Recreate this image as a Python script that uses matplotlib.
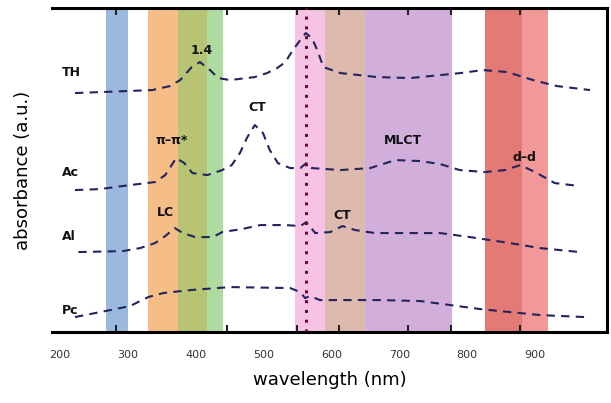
import matplotlib
matplotlib.use("Agg")
import matplotlib.pyplot as plt

# ---- data ----
wl_th = [222, 336, 362, 377, 394, 406, 421, 433, 450, 487, 505, 520, 532, 543, 554, 562, 571, 579, 588, 613, 667, 716, 790, 823, 859, 897, 932, 981]
ab_th = [239, 242, 246, 252, 265, 270, 262, 254, 252, 255, 259, 264, 270, 282, 292, 299, 294, 282, 265, 259, 255, 254, 259, 262, 260, 252, 246, 242]

wl_ac = [222, 259, 303, 340, 355, 371, 383, 395, 417, 439, 453, 465, 476, 487, 499, 509, 521, 539, 554, 563, 571, 613, 657, 694, 731, 760, 789, 826, 856, 878, 900, 929, 966]
ab_ac = [142, 143, 147, 150, 157, 174, 169, 159, 157, 162, 167, 179, 195, 207, 199, 182, 169, 164, 164, 169, 164, 162, 164, 172, 171, 168, 162, 160, 162, 167, 160, 149, 146]

wl_al = [227, 293, 318, 340, 355, 369, 381, 399, 425, 439, 468, 495, 532, 554, 563, 576, 598, 616, 635, 664, 760, 804, 863, 907, 966]
ab_al = [80, 81, 84, 89, 96, 104, 99, 95, 95, 100, 103, 107, 107, 106, 110, 99, 100, 106, 102, 99, 99, 95, 89, 84, 80]

wl_pc = [222, 274, 303, 330, 352, 392, 451, 539, 554, 561, 568, 583, 672, 731, 775, 819, 863, 907, 974]
ab_pc = [15, 22, 26, 35, 39, 42, 45, 44, 40, 34, 36, 32, 32, 31, 27, 23, 20, 17, 15]

series_names = ["TH", "Ac", "Al", "Pc"]
name_pos = [(203, 260), (203, 160), (203, 96), (203, 22)]

# spectral bands (start nm, end nm, colour)
band_start = [268, 330, 374, 417, 546, 590, 650, 826, 881]
band_end = [300, 374, 417, 440, 590, 650, 778, 881, 919]
band_color = ["#8fb2d9", "#f4b77a", "#b0be64", "#a5d796", "#f6bde2", "#dbb2a4", "#cca6d6", "#e06c66", "#f08e8e"]

marker_wl = 562

peak_text = ["1.4", "π–π*", "CT", "MLCT", "d–d", "LC", "CT"]
peak_x = [409, 365, 490, 705, 885, 355, 616]
peak_y = [282, 192, 225, 192, 175, 120, 117]

tick_vals = [200, 300, 400, 500, 600, 700, 800, 900]
minor_vals = [282, 446, 549, 611, 713, 776, 878]

# ---- figure ----
fig = plt.figure(figsize=(6.11, 4.03), dpi=100)
ax = fig.add_axes([0.085, 0.176, 0.9085, 0.804])

for s, e, c in zip(band_start, band_end, band_color):
    ax.axvspan(s, e, color=c, alpha=0.9, lw=0, zorder=0)

ax.axvline(marker_wl, color="#6a0d3a", ls=(0, (1, 2.2)), lw=2.2, zorder=3)

line_kw = dict(color="#23235e", lw=1.5, ls=(0, (4, 3)), zorder=2)
ax.plot(wl_th, ab_th, **line_kw)
ax.plot(wl_ac, ab_ac, **line_kw)
ax.plot(wl_al, ab_al, **line_kw)
ax.plot(wl_pc, ab_pc, **line_kw)

for n, (x, y) in zip(series_names, name_pos):
    ax.text(x, y, n, fontsize=9, fontweight="bold", ha="left", va="center", color="#111111")

for t, x, y in zip(peak_text, peak_x, peak_y):
    ax.text(x, y, t, fontsize=9, fontweight="bold", ha="center", va="center", color="#111111", zorder=4)

ax.set_xlim(188, 1006)
ax.set_ylim(0, 324)

ax.set_xticks(tick_vals)
ax.set_xticklabels([str(v) for v in tick_vals], fontsize=8, color="#333333")
ax.set_xticks(minor_vals, minor=True)
ax.tick_params(axis="x", which="major", length=0, pad=13)
ax.tick_params(axis="x", which="minor", direction="in", length=5, width=1.5, top=True, bottom=True, color="#222222")
ax.set_yticks([])

ax.spines["left"].set_visible(False)
for sp in ["top", "bottom", "right"]:
    ax.spines[sp].set_linewidth(2.2)

ax.set_xlabel("wavelength (nm)", fontsize=13, labelpad=8)
ax.set_ylabel("absorbance (a.u.)", fontsize=13, labelpad=14)

fig.savefig("out.png", dpi=100)
